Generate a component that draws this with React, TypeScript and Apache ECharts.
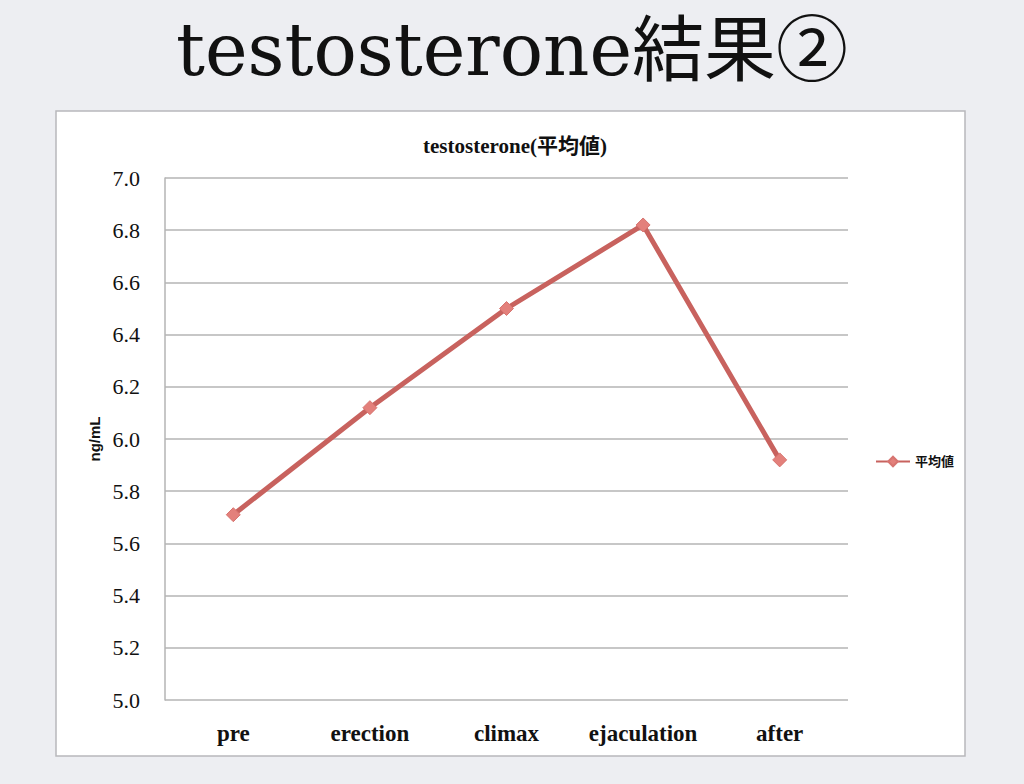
import { useEffect, useRef } from 'react';
import * as echarts from 'echarts';

const categories = ['pre', 'erection', 'climax', 'ejaculation', 'after'];
const averages = [5.71, 6.12, 6.5, 6.82, 5.92];
const seriesName = '平均値';

const SERIF = '"Liberation Serif", "DejaVu Serif", serif';
const SANS = '"Liberation Sans", "Noto Sans CJK JP", sans-serif';

const App = () => {
    const chartRef = useRef<HTMLDivElement>(null);

    useEffect(() => {
        if (!chartRef.current) return;
        const chart = echarts.init(chartRef.current, undefined, { renderer: 'svg' });

        chart.setOption({
            animation: false,
            backgroundColor: '#edeef2',
            title: [
                {
                    text: 'testosterone結果②',
                    left: 'center',
                    top: 9,
                    textStyle: {
                        fontFamily: '"DejaVu Serif", "Noto Sans CJK JP", serif',
                        fontSize: 72,
                        fontWeight: 'normal',
                        color: '#111'
                    }
                },
                {
                    text: 'testosterone(平均値)',
                    left: 510,
                    textAlign: 'center',
                    top: 130,
                    textStyle: {
                        fontFamily: '"Liberation Serif", "Noto Sans CJK JP", serif',
                        fontSize: 21,
                        fontWeight: 'bold',
                        color: '#111'
                    }
                }
            ],
            graphic: [
                {
                    type: 'rect',
                    z: -10,
                    shape: { x: 56, y: 111, width: 909, height: 645 },
                    style: { fill: '#ffffff', stroke: '#b8b8bc', lineWidth: 1.5 }
                }
            ],
            legend: {
                data: [seriesName],
                left: 870,
                top: 450,
                itemWidth: 34,
                itemHeight: 12,
                itemGap: 2,
                textStyle: { fontFamily: SANS, fontSize: 13, color: '#111', fontWeight: 'bold' }
            },
            grid: { left: 165, right: 176, top: 178, bottom: 84 },
            xAxis: {
                type: 'category',
                data: categories,
                boundaryGap: true,
                axisLine: { show: false },
                axisTick: { show: false },
                axisLabel: {
                    interval: 0,
                    margin: 22,
                    fontFamily: SERIF,
                    fontSize: 23,
                    fontWeight: 'bold',
                    color: '#111'
                }
            },
            yAxis: {
                type: 'value',
                min: 5.0,
                max: 7.0,
                interval: 0.2,
                name: 'ng/mL',
                nameLocation: 'middle',
                nameGap: 62,
                nameRotate: 90,
                nameTextStyle: { fontFamily: SANS, fontSize: 15, fontWeight: 'bold', color: '#111' },
                axisLine: { show: true, lineStyle: { color: '#b5b5b5', width: 1.5 } },
                axisTick: { show: false },
                axisLabel: {
                    margin: 25,
                    fontFamily: SERIF,
                    fontSize: 22,
                    color: '#111',
                    formatter: (v: number) => v.toFixed(1)
                },
                splitLine: { lineStyle: { color: '#b5b5b5', width: 1.5 } }
            },
            series: [
                {
                    name: seriesName,
                    type: 'line',
                    data: averages,
                    symbol: 'diamond',
                    symbolSize: 14,
                    lineStyle: { color: '#c8625e', width: 5 },
                    itemStyle: { color: '#e3807b', borderColor: '#d77470', borderWidth: 1 }
                }
            ]
        });

        return () => {
            chart.dispose();
        };
    }, []);

    return (
        <div style={{ position: 'fixed', left: 0, top: 0, width: 1024, height: 784 }}>
            <div ref={chartRef} style={{ width: '100%', height: '100%' }} />
        </div>
    );
};

export default App;
